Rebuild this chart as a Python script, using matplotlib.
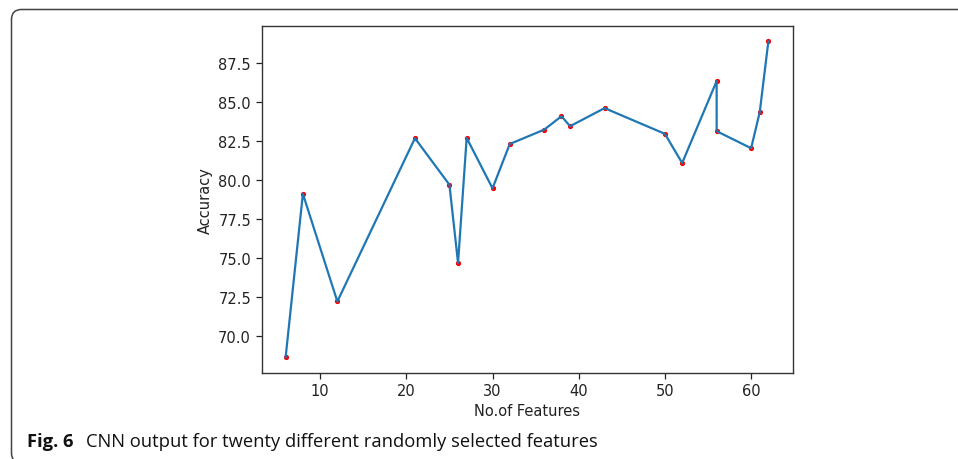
import matplotlib
matplotlib.use("Agg")
import matplotlib.pyplot as plt
from matplotlib.patches import FancyBboxPatch

plt.rcParams["font.family"] = ["DejaVu Sans"]

# Data
features = [6, 8, 12, 21, 25, 26, 27, 30, 32, 36, 38, 39, 43, 50, 52, 56, 56, 60, 61, 62]
accuracy = [68.63, 79.1, 72.2, 82.66, 79.68, 74.67, 82.68, 79.45, 82.29, 83.21,
            84.07, 83.43, 84.59, 82.94, 81.07, 86.32, 83.11, 82.02, 84.33, 88.87]
x_label = "No.of Features"
y_label = "Accuracy"
caption_bold = "Fig. 6"
caption_text = "CNN output for twenty different randomly selected features"

W, H = 958, 460
fig = plt.figure(figsize=(W / 100, H / 100), dpi=100)
fig.patch.set_facecolor("white")

ax = fig.add_axes([261.5 / W, 1 - 374 / H, (792.5 - 261.5) / W, (374 - 26.5) / H])
ax.plot(features, accuracy, "r.", markersize=5.5, zorder=2)
ax.plot(features, accuracy, color="#1f77b4", linewidth=1.6, zorder=3)
ax.set_yticks([70.0, 72.5, 75.0, 77.5, 80.0, 82.5, 85.0, 87.5])
ax.set_xticks([10, 20, 30, 40, 50, 60])
ax.tick_params(labelsize=10.5, colors="#222222", length=4, width=0.9)
for s in ax.spines.values():
    s.set_color("#333333")
    s.set_linewidth(1.0)
ax.set_xlabel(x_label, fontsize=10.5, color="#222222", labelpad=3)
ax.set_ylabel(y_label, fontsize=10.5, color="#222222", labelpad=4)

# Rounded border (extends beyond right and bottom edges)
border = FancyBboxPatch((11.5, -4), 980, H - 10.5 + 4,
                        boxstyle="round,pad=0,rounding_size=10",
                        transform=None, fill=False, edgecolor="#444444",
                        linewidth=1.1, clip_on=False)
fig.patches.append(border)

fam = ["Open Sans", "DejaVu Sans"]
fig.text(27 / W, (H - 446.7) / H, caption_bold, fontsize=13.2, fontweight="bold",
         family=fam, va="baseline", ha="left", color="#111111")
fig.text(86 / W, (H - 446.7) / H, caption_text, fontsize=13.2,
         family=fam, va="baseline", ha="left", color="#111111")

fig.savefig("out.png", dpi=100)
